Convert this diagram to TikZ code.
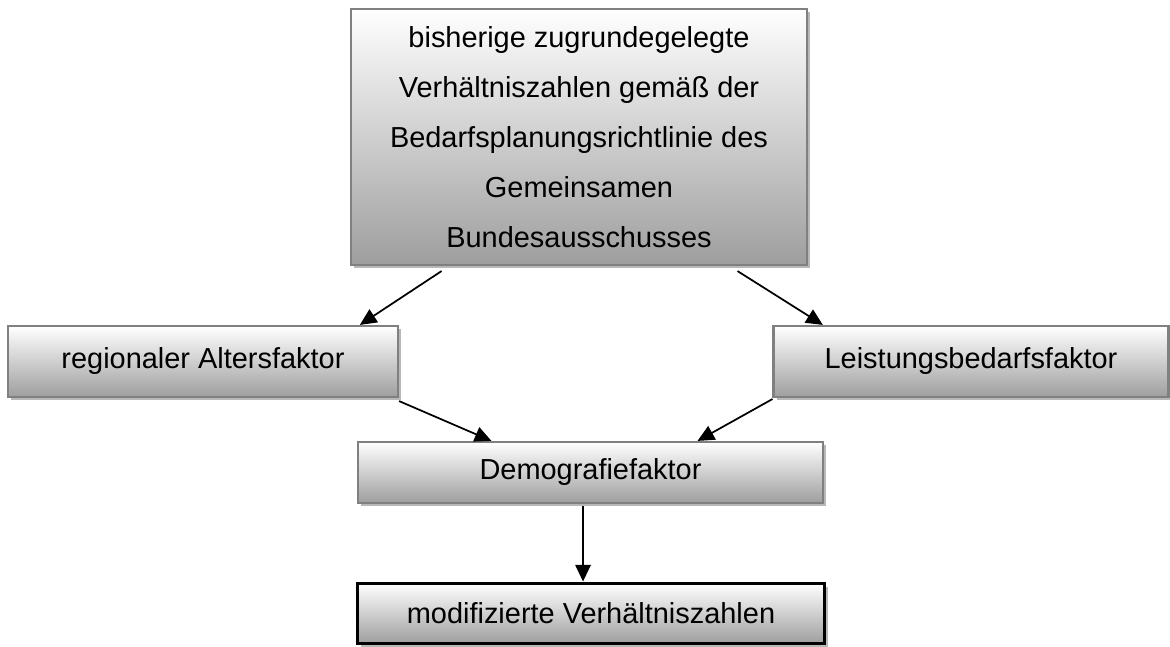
\documentclass[tikz,border=0pt]{standalone}
\usepackage{fontspec}
\setmainfont{Liberation Sans}
\usetikzlibrary{arrows.meta,calc}
\begin{document}
\begin{tikzpicture}[x=0.75pt,y=-0.75pt,
  box/.style={draw=black!50, line width=1.6pt, top color=white, bottom color=black!38,
    inner sep=0pt, align=center, font=\fontsize{21.7pt}{37.5pt}\selectfont,
    preaction={fill=black!28, transform canvas={xshift=2.5pt,yshift=-2.5pt}}},
  finalbox/.style={box, draw=black, line width=2.4pt},
  arr/.style={line width=1.3pt, -{Triangle[length=12.5pt,width=11.5pt]}}]
\useasboundingbox (0,0) rectangle (1170,646);
\node[box, minimum width=342pt, minimum height=192pt] (top) at (579,137)
  {bisherige zugrundegelegte\\Verhältniszahlen gemäß der\\Bedarfsplanungsrichtlinie des\\Gemeinsamen\\Bundesausschusses};
\node[box, minimum width=292.5pt, minimum height=53.25pt] (reg) at (203,361.5) {regionaler Altersfaktor};
\node[box, minimum width=296.25pt, minimum height=53.25pt] (leist) at (971,361.5) {Leistungsbedarfsfaktor};
\node[box, minimum width=348.75pt, minimum height=45.75pt] (demo) at (590.5,472.5) {Demografiefaktor};
\node[finalbox, minimum width=350pt, minimum height=45.5pt] (mod) at (591,613.5) {modifizierte Verhältniszahlen};
\draw[arr] ($(top.south west)!0.20!(top.south east)+(0,5)$) -- ($(reg.north west)!0.90!(reg.north east)$);
\draw[arr] ($(top.south west)!0.846!(top.south east)+(0,5)$) -- ($(leist.north west)!0.127!(leist.north east)$);
\draw[arr] ($(reg.south east)+(0,3)$) -- ($(demo.north west)!0.288!(demo.north east)$);
\draw[arr] ($(leist.south west)+(0,1)$) -- ($(demo.north west)!0.729!(demo.north east)$);
\draw[arr] ($(demo.south west)!0.484!(demo.south east)+(0,2)$) -- ($(mod.north west)!0.483!(mod.north east)$);
\end{tikzpicture}
\end{document}
